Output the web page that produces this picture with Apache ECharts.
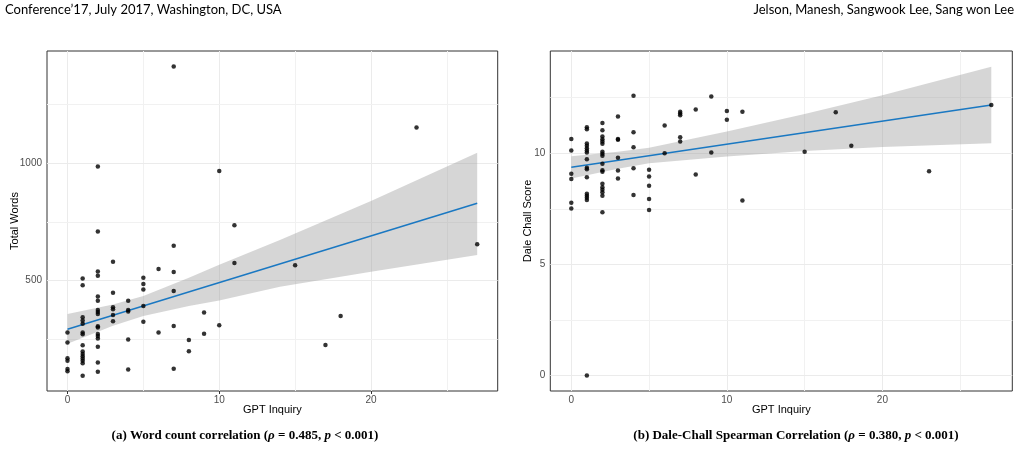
<!DOCTYPE html>
<html>
<head>
<meta charset="utf-8">
<script src="https://cdn.jsdelivr.net/npm/echarts@6/dist/echarts.min.js"></script>
<style>
  html, body { margin: 0; padding: 0; background: #fff; }
  #chart { width: 1021px; height: 455px; }
</style>
</head>
<body>
<div id="chart"></div>
<script>
// GPT inquiry count vs total words (panel a)
const wordPoints = [
  [0, 279], [0, 237], [0, 169], [0, 159], [0, 124], [0, 114],
  [1, 509], [1, 480], [1, 344], [1, 330], [1, 317], [1, 279], [1, 272], [1, 225],
  [1, 198], [1, 188], [1, 178], [1, 168], [1, 159], [1, 148], [1, 95],
  [2, 986], [2, 710], [2, 539], [2, 521], [2, 433], [2, 415], [2, 375], [2, 367],
  [2, 358], [2, 306], [2, 300], [2, 273], [2, 264], [2, 254], [2, 218], [2, 151], [2, 112],
  [3, 581], [3, 449], [3, 387], [3, 378], [3, 354], [3, 327],
  [4, 414], [4, 375], [4, 369], [4, 249], [4, 122],
  [5, 513], [5, 486], [5, 462], [5, 392], [5, 325],
  [6, 550], [6, 279],
  [7, 1412], [7, 649], [7, 537], [7, 456], [7, 307], [7, 125],
  [8, 247], [8, 199],
  [9, 364], [9, 274],
  [10, 967], [10, 310],
  [11, 736], [11, 575],
  [15, 566], [17, 226], [18, 350], [23, 1153], [27, 655]
];
const wordFit = [[0, 293], [27, 830]];
const wordBandX = [0, 3, 5, 8, 10, 14, 20, 27];
const wordBandLow = [231, 308, 350, 392, 416, 474, 538, 609];
const wordBandHigh = [358, 398, 435, 512, 568, 673, 839, 1045];

// GPT inquiry count vs Dale-Chall score (panel b)
const dalePoints = [
  [0, 10.64], [0, 10.12], [0, 9.08], [0, 8.84], [0, 7.77], [0, 7.51],
  [1, 11.17], [1, 11.08], [1, 10.43], [1, 10.33], [1, 10.22], [1, 10.12], [1, 10.03], [1, 9.73],
  [1, 9.35], [1, 9.28], [1, 8.92], [1, 8.17], [1, 8.08], [1, 7.99], [1, 7.90], [1, 0],
  [2, 11.36], [2, 11.03], [2, 10.75], [2, 10.63], [2, 10.52], [2, 10.42], [2, 10.06], [2, 9.97],
  [2, 9.88], [2, 9.52], [2, 9.23], [2, 9.17], [2, 8.62], [2, 8.47], [2, 8.35], [2, 8.24], [2, 8.08], [2, 7.34],
  [3, 11.65], [3, 10.64], [3, 10.60], [3, 9.80], [3, 9.22], [3, 8.86],
  [4, 12.58], [4, 10.94], [4, 10.27], [4, 9.32], [4, 8.12],
  [5, 9.25], [5, 8.95], [5, 8.54], [5, 7.94], [5, 7.45],
  [6, 11.24], [6, 10.0],
  [7, 11.86], [7, 11.78], [7, 11.71], [7, 10.72], [7, 10.52],
  [8, 11.96], [8, 9.04],
  [9, 12.55], [9, 10.03],
  [10, 11.9], [10, 11.5],
  [11, 11.86], [11, 7.87],
  [15, 10.06], [17, 11.84], [18, 10.33], [23, 9.19], [27, 12.17]
];
const daleFit = [[0, 9.37], [27, 12.17]];
const daleBandX = [0, 3, 5, 10, 15, 20, 27];
const daleBandLow = [8.86, 9.30, 9.55, 9.85, 10.10, 10.28, 10.45];
const daleBandHigh = [9.86, 10.06, 10.24, 10.97, 11.76, 12.60, 13.89];

// tick labels / grid breaks
const xTicks = [0, 10, 20];
const xMinor = [5, 15, 25];
const wordTicks = [500, 1000];
const wordMinor = [250, 750, 1250];
const daleTicks = [0, 5, 10];
const daleMinor = [2.5, 7.5, 12.5];

const FONT = 'Liberation Sans';

function xAxis(idx) {
  return {
    type: 'value', gridIndex: idx, min: -1.35, max: 28.35,
    splitLine: { show: false },
    axisLine: { show: false },
    axisTick: { customValues: xTicks, length: 3, lineStyle: { color: '#333' } },
    axisLabel: { customValues: xTicks, color: '#4d4d4d', fontSize: 10, fontFamily: FONT, margin: 4 },
    name: 'GPT Inquiry', nameLocation: 'middle', nameGap: 13, nameMoveOverlap: false,
    nameTextStyle: { color: '#000', fontSize: 11, fontFamily: FONT, verticalAlign: 'top' }
  };
}

function yAxis(idx, min, max, ticks, name, gap) {
  return {
    type: 'value', gridIndex: idx, min: min, max: max,
    splitLine: { show: false },
    axisLine: { show: false },
    axisTick: { customValues: ticks, length: 3, lineStyle: { color: '#333' } },
    axisLabel: {
      customValues: ticks, color: '#4d4d4d', fontSize: 10, fontFamily: FONT, margin: 5,
      formatter: v => String(v)
    },
    name: name, nameLocation: 'middle', nameGap: gap, nameRotate: 90, nameMoveOverlap: false,
    nameTextStyle: { color: '#000', fontSize: 11, fontFamily: FONT }
  };
}

function gridLines(idx, yMajor, yMinor) {
  const major = { color: '#ebebeb', width: 1, type: 'solid' };
  const minor = { color: '#f1f1f1', width: 1, type: 'solid' };
  const data = [];
  xTicks.forEach(v => data.push({ xAxis: v, lineStyle: major }));
  xMinor.forEach(v => data.push({ xAxis: v, lineStyle: minor }));
  yMajor.forEach(v => data.push({ yAxis: v, lineStyle: major }));
  yMinor.forEach(v => data.push({ yAxis: v, lineStyle: minor }));
  return {
    type: 'line', xAxisIndex: idx, yAxisIndex: idx, data: [], z: 1, silent: true,
    markLine: { z: 1, symbol: 'none', silent: true, label: { show: false }, emphasis: { disabled: true }, data: data }
  };
}

function band(idx, xs, lo, hi) {
  return {
    type: 'custom', xAxisIndex: idx, yAxisIndex: idx, z: 2, silent: true,
    data: [[xs[0], lo[0]]],
    renderItem: function (params, api) {
      const pts = [];
      for (let i = 0; i < xs.length; i++) pts.push(api.coord([xs[i], hi[i]]));
      for (let i = xs.length - 1; i >= 0; i--) pts.push(api.coord([xs[i], lo[i]]));
      return { type: 'polygon', shape: { points: pts }, style: { fill: 'rgba(153,153,153,0.4)' } };
    }
  };
}

function fitLine(idx, data) {
  return {
    type: 'line', xAxisIndex: idx, yAxisIndex: idx, data: data, z: 3,
    symbol: 'none', silent: true,
    lineStyle: { color: '#1a78c2', width: 1.5 }
  };
}

function points(idx, data) {
  return {
    type: 'scatter', xAxisIndex: idx, yAxisIndex: idx, data: data, z: 4,
    symbolSize: 4.5, itemStyle: { color: '#000' }, silent: true
  };
}

function caption(x, label, text, rho) {
  return {
    type: 'text', x: x, y: 429,
    style: {
      text: '{b|' + label + ' ' + text + ' (}{i|ρ}{b| = ' + rho + ', }{i|p}{b| < 0.001)}',
      align: 'center',
      rich: {
        b: { fontFamily: 'Liberation Serif', fontWeight: 'bold', fontSize: 13, fill: '#000' },
        i: { fontFamily: 'Liberation Serif', fontWeight: 'bold', fontStyle: 'italic', fontSize: 13, fill: '#000' }
      }
    }
  };
}

const chart = echarts.init(document.getElementById('chart'));
chart.setOption({
  animation: false,
  backgroundColor: '#fff',
  grid: [
    { left: 47, top: 51, right: 523.3, bottom: 64, show: true, borderColor: '#333', borderWidth: 1, backgroundColor: 'transparent' },
    { left: 550.3, top: 51, right: 8.7, bottom: 64, show: true, borderColor: '#333', borderWidth: 1, backgroundColor: 'transparent' }
  ],
  xAxis: [xAxis(0), xAxis(1)],
  yAxis: [
    yAxis(0, 30, 1478.5, wordTicks, 'Total Words', 27),
    yAxis(1, -0.695, 14.595, daleTicks, 'Dale Chall Score', 17)
  ],
  graphic: [
    { type: 'text', left: 5, top: 3, style: { text: 'Conference\u201917, July 2017, Washington, DC, USA', font: '13px Lato', fill: '#000' } },
    { type: 'text', right: 7, top: 3, style: { text: 'Jelson, Manesh, Sangwook Lee, Sang won Lee', font: '13px Lato', fill: '#000' } },
    caption(245, '(a)', 'Word count correlation', '0.485'),
    caption(796, '(b)', 'Dale-Chall Spearman Correlation', '0.380')
  ],
  series: [
    gridLines(0, wordTicks, wordMinor),
    gridLines(1, daleTicks, daleMinor),
    band(0, wordBandX, wordBandLow, wordBandHigh),
    band(1, daleBandX, daleBandLow, daleBandHigh),
    fitLine(0, wordFit),
    fitLine(1, daleFit),
    points(0, wordPoints),
    points(1, dalePoints)
  ]
});
</script>
</body>
</html>
